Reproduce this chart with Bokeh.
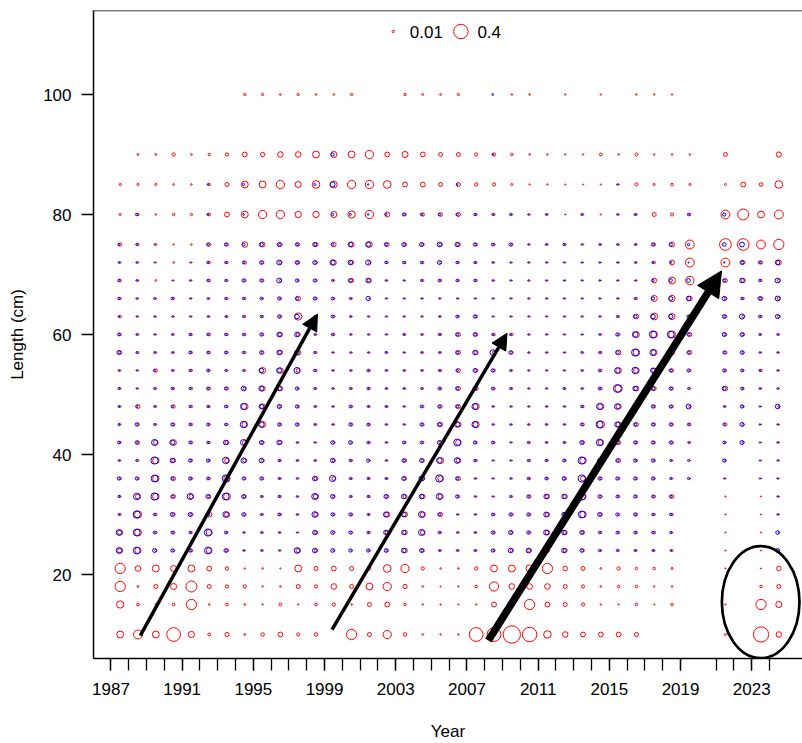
import math
from bokeh.plotting import figure
from bokeh.models import (ColumnDataSource, Range1d, FixedTicker, Arrow,
                          NormalHead, Span, Label)
from bokeh.embed import file_html
from bokeh.resources import INLINE

# ---------------------------------------------------------------- data
years = list(range(1987, 2020)) + [2021, 2022, 2023, 2024]
label_years = [1987, 1991, 1995, 1999, 2003, 2007, 2011, 2015, 2019, 2023]
length_ticks = [20, 40, 60, 80, 100]

# proportion at length per year (red series); 0 = nothing recorded
red_100 = [0, 0, 0, 0, 0, 0, 0, .01, .01, .006, .01, .005,
           .005, .01, 0, 0, .01, .006, .006, .01, 0, 0, .005, .005, 0,
           .004, 0, .004, 0, .005, .004, .004, 0,
           0, 0, 0, 0]
red_90 = [0, .006, .006, .02, .006, .01, .02, .045, .035, .06, .06, .09,
          .07, .09, .13, .045, .07, .045, .03, .03, .02, .02, .012, .005, .005,
          .004, .004, .015, .005, .018, .005, .005, .005,
          .03, 0, 0, .05]
red_85 = [.008, .008, .008, .006, .005, .012, .03, .09, .09, .13, .07, .11,
          .09, .13, .13, .11, .045, .045, .03, .03, .02, .02, .008, .004, .004,
          .003, .003, .003, .004, .018, .008, .012, .008,
          .008, .045, .025, .11]
red_80 = [.008, .01, .005, .012, .01, .015, .045, .09, .13, .13, .075, .075,
          .07, .1, .13, .045, .015, .02, .025, .03, .008, .008, .006, .004, .005,
          .003, .005, .004, .004, .006, .03, .018, .01,
          .15, .23, .09, .15]
red_75 = [.02, .008, .008, .004, .005, .02, .02, .06, .045, .025, .02, .03,
          .04, .05, .06, .03, .02, .015, .025, .025, .015, .01, .012, .004, .005,
          .006, .004, .006, .005, .006, .015, .045, .15,
          .26, .26, .15, .2]
red_72 = [.005, .004, .004, .006, .004, .01, .01, .02, .015, .02, .02, .015,
          .05, .03, .015, .01, .01, .01, .01, .008, .006, .004, .003, .003, .003,
          .003, .003, .003, .004, .005, .012, .045, .15,
          .15, .025, .02, .05]
red_69 = [.012, .005, .006, .003, .003, .015, .008, .012, .012, .01, .008, .01,
          .005, .03, .03, .004, .003, .008, .01, .008, .01, .004, .003, .003, .003,
          .003, .003, .003, .003, .004, .045, .09, .13,
          .03, .035, .01, .02]
red_66 = [.008, .003, .004, .008, .004, .004, .008, .008, .006, .01, .04, .012,
          .008, .005, .004, .003, .003, .003, .003, .003, .003, .003, .003, .003, .003,
          .003, .003, .003, .004, .01, .07, .075, .04,
          .015, .01, .025, .02]
red_63 = [.012, .004, .004, .004, .004, .005, .008, .008, .008, .015, .1, .008,
          .012, .004, .003, .003, .003, .003, .005, .008, .015, .003, .003, .003, .003,
          .003, .003, .004, .008, .04, .09, .07, .02,
          .015, .015, .01, .015]
red_60 = [.012, .006, .004, .005, .008, .015, .01, .01, .012, .035, .03, .006,
          .01, .004, .004, .004, .006, .005, .01, .03, .02, .012, .012, .004, .004,
          .003, .003, .006, .015, .07, .08, .09, .03,
          .015, .015, .005, .005]
red_57 = [.02, .008, .006, .005, .01, .015, .01, .01, .015, .035, .05, .008,
          .004, .004, .004, .005, .004, .006, .006, .03, .03, .02, .015, .004, .004,
          .003, .004, .01, .04, .08, .06, .045, .03,
          .02, .012, .004, .004]
red_54 = [.004, .004, .02, .005, .01, .008, .006, .006, .07, .06, .03, .008,
          .004, .004, .008, .004, .005, .005, .01, .03, .02, .015, .005, .003, .003,
          .003, .004, .012, .06, .06, .045, .02, .012,
          .012, .006, .012, .004]
red_51 = [.006, .004, .006, .008, .012, .015, .02, .02, .05, .04, .008, .006,
          .004, .006, .008, .005, .005, .006, .012, .03, .03, .012, .008, .003, .003,
          .005, .004, .015, .1, .04, .03, .015, .005,
          .04, .008, .005, .004]
red_48 = [.005, .03, .006, .02, .012, .008, .01, .08, .05, .015, .01, .006,
          .004, .01, .006, .006, .004, .01, .02, .03, .07, .004, .004, .003, .004,
          .004, .01, .07, .05, .04, .015, .015, .01,
          .004, .008, .003, .008]
red_45 = [.005, .015, .006, .015, .012, .008, .01, .06, .07, .012, .01, .006,
          .005, .012, .01, .004, .004, .015, .03, .05, .07, .004, .004, .004, .004,
          .004, .015, .1, .05, .03, .015, .015, .012,
          .02, .01, .003, .004]
red_42 = [.008, .02, .04, .06, .015, .01, .03, .04, .02, .025, .004, .004,
          .012, .01, .008, .004, .008, .01, .02, .06, .01, .008, .003, .005, .004,
          .005, .02, .06, .03, .015, .012, .015, .006,
          .006, .008, .003, .004]
red_39 = [.004, .006, .08, .03, .012, .01, .04, .03, .02, .008, .005, .005,
          .02, .008, .008, .005, .02, .02, .07, .04, .01, .003, .003, .008, .008,
          .01, .08, .03, .03, .01, .012, .005, .003,
          .01, 0, .003, .004]
red_36 = [.012, .012, .08, .03, .012, .012, .08, .012, .012, .006, .004, .03,
          .03, .006, .006, .006, .02, .03, .06, .03, .004, .003, .004, .008, .012,
          .015, .05, .015, .012, .01, .01, .005, .003,
          .003, 0, .003, .003]
red_33 = [.006, .05, .08, .03, .04, .02, .09, .02, .006, .008, .004, .05,
          .015, .006, .008, .02, .03, .035, .05, .012, .004, .003, .006, .015, .035,
          .035, .07, .015, .012, .01, .015, .025, 0,
          .003, 0, .003, .004]
red_30 = [.008, .1, .012, .02, .02, .05, .05, .015, .006, .01, .004, .04,
          .012, .012, .006, .05, .05, .05, .03, .004, .004, .01, .015, .012, .035,
          .04, .08, .02, .01, .012, .01, .01, 0,
          .003, 0, .003, .004]
red_27 = [.05, .09, .012, .015, .008, .07, .008, .004, .005, .004, .003, .02,
          .012, .01, .008, .03, .04, .04, .008, .006, .004, .012, .015, .012, .04,
          .03, .02, .01, .01, .01, .015, .005, 0,
          .003, 0, .003, .004]
red_24 = [.05, .07, .01, .01, .015, .06, .02, .004, .005, .004, .04, .02,
          .008, .008, .01, .015, .04, .02, .006, .006, .005, .01, .02, .03, .03,
          .03, .015, .006, .005, .005, .006, .008, 0,
          .003, 0, .003, .004]
red_21 = [.2, .06, .09, .07, .09, .045, .02, .004, .005, .003, .09, .03,
          .045, .03, .02, .11, .13, .02, .005, .005, .02, .09, .09, .1, .2,
          .04, .03, .006, .02, .012, .012, .008, 0,
          .003, 0, .003, .04]
red_18 = [.2, .006, .03, .07, .23, .03, .02, .02, .004, .005, .03, .02,
          .06, .03, .09, .13, .035, .005, .003, .004, .012, .16, .06, .06, .06,
          .03, .02, .005, .012, .012, .004, .005, 0,
          0, 0, .012, .03]
red_15 = [.1, .015, .006, .015, .2, .006, .015, .006, .004, .015, .004, .015,
          .02, .005, .03, .045, .012, .004, .004, .003, .004, .045, .02, .2, .045,
          .03, .02, .004, .003, .012, .003, .012, 0,
          .003, 0, .2, .07]
red_10 = [.09, .15, .09, .36, .073, .015, .033, .006, .023, .044, .018, .023,
          0, .2, .033, .13, .023, .005, .004, .005, .36, .36, .57, .4, .11,
          .058, .044, .044, .044, .033, 0, 0, 0,
          .008, 0, .44, .058]

# proportion at length per year (blue series)
blue_100 = [0, 0, 0, 0, 0, 0, 0, 0, 0, 0, 0, 0,
            0, 0, 0, 0, 0, 0, 0, 0, 0, .006, 0, 0, 0,
            0, 0, 0, 0, 0, 0, 0, 0,
            0, 0, 0, 0]
blue_90 = [0, 0, 0, 0, 0, 0, 0, 0, 0, 0, 0, 0,
           .02, 0, 0, 0, 0, 0, 0, 0, 0, .005, 0, 0, 0,
           0, 0, 0, 0, 0, 0, 0, 0,
           0, 0, 0, 0]
blue_85 = [0, 0, 0, 0, 0, .005, 0, .008, 0, 0, 0, .008,
           .05, 0, .004, 0, 0, 0, 0, .005, 0, 0, 0, 0, 0,
           0, 0, 0, .004, 0, 0, 0, 0,
           0, 0, 0, 0]
blue_80 = [0, .012, 0, 0, 0, .008, 0, .005, 0, 0, 0, 0,
           .01, .008, .005, .008, .015, .012, .012, .012, .012, .008, .01, .004, .006,
           0, .008, 0, .005, .008, 0, 0, .012,
           .02, 0, 0, 0]
blue_75 = [.01, .008, .002, 0, 0, .015, .015, .015, .03, .03, .02, .03,
           .015, .04, .05, .02, .03, .03, .04, .035, .02, .015, .02, .004, .006,
           .01, .004, .006, .006, .006, .02, .02, .012,
           .025, .045, 0, 0]
blue_72 = [.006, .006, .002, 0, .002, .012, .01, .012, .025, .045, .025, .03,
           .05, .04, .05, .012, .012, .012, .03, .012, .01, .006, .004, .004, .004,
           .004, .004, .004, .004, .005, .008, .006, .003,
           .004, .03, .015, .04]
blue_69 = [.012, .006, 0, .002, .005, .01, .01, .02, .02, .045, .02, .02,
           .008, .03, .04, .005, .005, .008, .012, .012, .012, .005, .004, .004, .004,
           .004, .004, .004, .004, .004, .01, .02, .025,
           .02, .04, .012, .045]
blue_66 = [.012, .006, .008, .012, .004, .006, .01, .012, .015, .02, .02, .02,
           .015, .008, .035, .004, .004, .004, .004, .004, .004, .004, .004, .004, .004,
           .004, .004, .004, .004, .008, .02, .03, .04,
           .035, .012, .025, .045]
blue_63 = [.006, .004, .004, .004, .004, .005, .006, .01, .012, .02, .04, .008,
           .015, .006, .004, .004, .004, .004, .005, .015, .02, .004, .004, .003, .003,
           .004, .004, .004, .008, .025, .04, .035, .02,
           .025, .05, .015, .035]
blue_60 = [.015, .006, .004, .006, .012, .012, .012, .012, .02, .04, .04, .006,
           .012, .005, .004, .004, .008, .005, .01, .02, .025, .008, .008, .004, .004,
           .004, .004, .005, .02, .06, .1, .09, .02,
           .03, .03, .008, .006]
blue_57 = [.03, .006, .006, .006, .015, .012, .015, .012, .025, .04, .04, .01,
           .004, .004, .004, .008, .004, .006, .006, .02, .04, .06, .025, .004, .004,
           .004, .008, .008, .025, .1, .07, .04, .02,
           .015, .025, .005, .005]
blue_54 = [.006, .004, .012, .006, .01, .015, .008, .008, .04, .05, .07, .012,
           .005, .005, .012, .006, .006, .006, .008, .012, .03, .02, .008, .004, .004,
           .004, .006, .012, .06, .08, .045, .02, .02,
           .02, .015, .006, .005]
blue_51 = [.008, .004, .008, .012, .01, .015, .015, .04, .05, .04, .02, .008,
           .005, .008, .012, .006, .006, .008, .015, .02, .03, .015, .008, .004, .004,
           .008, .006, .015, .12, .04, .03, .02, .008,
           .03, .015, .006, .005]
blue_48 = [.008, .01, .006, .012, .01, .012, .015, .07, .04, .03, .02, .006,
           .005, .015, .008, .008, .005, .015, .02, .02, .07, .005, .004, .004, .005,
           .005, .012, .07, .06, .04, .02, .02, .045,
           .006, .02, .004, .04]
blue_45 = [.008, .02, .008, .02, .012, .015, .012, .08, .06, .02, .02, .006,
           .004, .02, .015, .005, .005, .02, .03, .05, .07, .005, .005, .005, .006,
           .005, .015, .09, .05, .02, .02, .02, .012,
           .012, .03, .004, .004]
blue_42 = [.015, .02, .07, .05, .015, .012, .04, .07, .03, .04, .005, .004,
           .025, .025, .012, .005, .015, .015, .03, .09, .02, .015, .004, .01, .006,
           .008, .03, .08, .03, .02, .02, .02, .006,
           .015, .03, .003, .005]
blue_39 = [.006, .008, .1, .04, .02, .02, .08, .05, .04, .01, .006, .006,
           .035, .012, .02, .005, .025, .03, .06, .06, .012, .004, .004, .01, .01,
           .015, .1, .03, .02, .02, .02, .008, .008,
           .02, 0, .003, .004]
blue_36 = [.02, .02, .09, .02, .02, .015, .1, .02, .02, .008, .005, .04,
           .07, .01, .01, .008, .03, .05, .1, .02, .005, .004, .005, .012, .015,
           .025, .1, .02, .02, .02, .02, .01, .01,
           .003, 0, .003, .004]
blue_33 = [.01, .08, .1, .02, .07, .03, .09, .03, .008, .01, .005, .07,
           .03, .008, .01, .03, .04, .04, .07, .02, .005, .004, .008, .02, .04,
           .04, .1, .02, .015, .02, .015, .015, 0,
           0, 0, 0, .004]
blue_30 = [.006, .1, .012, .03, .03, .02, .06, .025, .008, .015, .005, .06,
           .02, .02, .008, .05, .04, .07, .02, .004, .005, .015, .02, .02, .045,
           .035, .09, .03, .02, .02, .012, .012, 0,
           0, 0, 0, .004]
blue_27 = [.06, .09, .015, .015, .012, .1, .015, .005, .006, .005, .003, .035,
           .025, .02, .012, .04, .035, .07, .012, .004, .006, .02, .03, .02, .05,
           .04, .03, .012, .015, .015, .012, .01, 0,
           0, 0, 0, .025]
blue_24 = [.06, .09, .03, .02, .02, .09, .025, .005, .005, .004, .06, .04,
           .025, .02, .02, .025, .04, .03, .006, .006, .008, .02, .04, .04, .04,
           .04, .025, .01, .01, .008, .008, .005, 0,
           0, 0, 0, .03]

red_lengths = [10, 15, 18, 21, 24, 27, 30, 33, 36, 39, 42, 45, 48, 51, 54,
               57, 60, 63, 66, 69, 72, 75, 80, 85, 90, 100]
red_rows = [red_10, red_15, red_18, red_21, red_24, red_27, red_30, red_33,
            red_36, red_39, red_42, red_45, red_48, red_51, red_54, red_57,
            red_60, red_63, red_66, red_69, red_72, red_75, red_80, red_85,
            red_90, red_100]
blue_lengths = [24, 27, 30, 33, 36, 39, 42, 45, 48, 51, 54, 57, 60, 63, 66,
                69, 72, 75, 80, 85, 90, 100]
blue_rows = [blue_24, blue_27, blue_30, blue_33, blue_36, blue_39, blue_42,
             blue_45, blue_48, blue_51, blue_54, blue_57, blue_60, blue_63,
             blue_66, blue_69, blue_72, blue_75, blue_80, blue_85, blue_90,
             blue_100]

legend_values = [0.01, 0.4]
legend_texts = ["0.01", "0.4"]

# cohort arrows (start -> end, data coordinates) and highlighted 2023-24 recruits
arrow_x0 = [1988.65, 1999.42, 2008.2]
arrow_y0 = [9.8, 10.8, 9.0]
arrow_x1 = [1998.6, 2009.25, 2021.3]
arrow_y1 = [63.4, 60.2, 70.6]
arrow_widths = [3.5, 3.5, 7.5]
arrow_heads = [16, 16, 25]
ellipse_x, ellipse_y, ellipse_w, ellipse_h = 2023.5, 15.4, 4.36, 18.7

# ---------------------------------------------------------------- styling
REF_VALUE = 0.4
REF_DIAM = 14.5          # px diameter of a 0.4 bubble
FONT = "Liberation Sans"
FONT_SIZE = "17px"


def diam(v):
    return REF_DIAM * math.sqrt(v / REF_VALUE)


def bubble_source(rows, lengths, shift):
    xs, ys, ss = [], [], []
    for L, row in zip(lengths, rows):
        for yr, v in zip(years, row):
            if v > 0:
                xs.append(yr + shift)
                ys.append(L)
                ss.append(diam(v))
    return ColumnDataSource(dict(x=xs, y=ys, s=ss))


p = figure(width=802, height=743,
           x_range=Range1d(1986.02, 2025.85), y_range=Range1d(6, 114),
           output_backend="svg", toolbar_location=None,
           min_border_left=93, min_border_right=0,
           min_border_top=10, min_border_bottom=85)
p.outline_line_color = None
p.grid.visible = False
p.background_fill_color = "white"
p.border_fill_color = "white"

# bubbles: centred half a year after the tick
p.scatter("x", "y", size="s", source=bubble_source(red_rows, red_lengths, 0.52),
          marker="circle", fill_color=None, line_color="#ff0000", line_width=1)
p.scatter("x", "y", size="s", source=bubble_source(blue_rows, blue_lengths, 0.45),
          marker="circle", fill_color=None, line_color="#0000ff", line_width=1)

# annotations
for x0, y0, x1, y1, w, h in zip(arrow_x0, arrow_y0, arrow_x1, arrow_y1,
                                arrow_widths, arrow_heads):
    p.add_layout(Arrow(x_start=x0, y_start=y0, x_end=x1, y_end=y1,
                       line_width=w, line_color="black",
                       end=NormalHead(size=h, fill_color="black",
                                      line_color="black", line_width=1)))
p.ellipse(x=[ellipse_x], y=[ellipse_y], width=[ellipse_w], height=[ellipse_h],
          fill_color=None, line_color="black", line_width=2.7)

# size key at the top
key_x = [2002.86, 2006.66]
key_y = 110.5
p.scatter(key_x, [key_y, key_y], size=[diam(v) for v in legend_values],
          marker="circle", fill_color=None, line_color="#ff0000", line_width=1)
for kx, txt in zip(key_x, legend_texts):
    p.add_layout(Label(x=kx, y=key_y, x_offset=16.5, text=txt,
                       text_font=FONT, text_font_size=FONT_SIZE,
                       text_baseline="middle", text_align="left",
                       text_color="black"))

# top border of the box
p.add_layout(Span(location=114, dimension="width", line_color="black",
                  line_width=1.5))

# axes
xa = p.xaxis[0]
xa.ticker = FixedTicker(ticks=label_years, minor_ticks=years)
xa.axis_label = "Year"
ya = p.yaxis[0]
ya.ticker = FixedTicker(ticks=length_ticks)
ya.axis_label = "Length (cm)"
for ax in (xa, ya):
    ax.axis_line_color = "black"
    ax.axis_line_width = 1.5
    ax.major_tick_line_color = "black"
    ax.major_tick_line_width = 1.3
    ax.major_tick_out = 12
    ax.major_tick_in = 0
    ax.minor_tick_line_color = "black"
    ax.minor_tick_line_width = 1.3
    ax.minor_tick_out = 12
    ax.minor_tick_in = 0
    ax.major_label_text_font = FONT
    ax.major_label_text_font_size = FONT_SIZE
    ax.major_label_text_color = "black"
    ax.axis_label_text_font = FONT
    ax.axis_label_text_font_size = FONT_SIZE
    ax.axis_label_text_font_style = "normal"
    ax.axis_label_text_color = "black"
ya.minor_tick_line_color = None
xa.major_label_standoff = 12
xa.axis_label_standoff = 24
ya.major_label_standoff = 10
ya.axis_label_standoff = 13
ya.major_label_orientation = "horizontal"

open("out.html", "w").write(file_html(p, INLINE))
